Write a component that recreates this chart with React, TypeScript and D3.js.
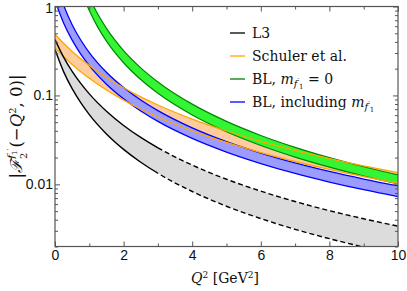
import React, { useRef, useEffect } from 'react';
import * as d3 from 'd3';

// Q^2 grid (GeV^2) and band edges
const q2 = [0, 0.25, 0.5, 0.75, 1, 1.5, 2, 2.5, 3, 4, 5, 6, 7, 8, 9, 10];
const l3Upper = [0.425, 0.2698, 0.1863, 0.1364, 0.1041, 0.0664, 0.04597, 0.0337, 0.02577, 0.01646, 0.01141, 0.00838, 0.00641, 0.00506, 0.0041, 0.00339];
const l3Lower = [0.328, 0.1853, 0.119, 0.0828, 0.0609, 0.0369, 0.02473, 0.01772, 0.01332, 0.00831, 0.00567, 0.00412, 0.00312, 0.00245, 0.00197, 0.00162];
const schulerUpper = [0.488, 0.3854, 0.3122, 0.258, 0.2168, 0.1593, 0.1219, 0.0963, 0.078, 0.0542, 0.0398, 0.0305, 0.02409, 0.01951, 0.01612, 0.01355];
const schulerLower = [0.3445, 0.2735, 0.2225, 0.1846, 0.1556, 0.115, 0.0886, 0.0703, 0.0572, 0.04, 0.02957, 0.02276, 0.01807, 0.0147, 0.0122, 0.01028];

const blueQ2 = [0.05, 0.25, 0.5, 0.75, 1, 1.5, 2, 2.5, 3, 4, 5, 6, 7, 8, 9, 10];
const blUpper = [1.8, 1.04, 0.624, 0.42, 0.3036, 0.1823, 0.1227, 0.0887, 0.0675, 0.04319, 0.03025, 0.02249, 0.01744, 0.01397, 0.01147, 0.0096];
const blLower = [1.03, 0.653, 0.418, 0.292, 0.2166, 0.1338, 0.0915, 0.0668, 0.051, 0.03285, 0.02306, 0.01714, 0.01327, 0.01062, 0.0087, 0.00727];

const greenQ2 = [0.9, 1, 1.25, 1.5, 2, 2.5, 3, 4, 5, 6, 7, 8, 9, 10];
const bl0Upper = [1.577, 1.277, 0.817, 0.5676, 0.3193, 0.2043, 0.1419, 0.0798, 0.0511, 0.03547, 0.02606, 0.01995, 0.01577, 0.01277];
const bl0Lower = [1.105, 0.9, 0.582, 0.408, 0.233, 0.1508, 0.1056, 0.0603, 0.039, 0.02734, 0.02025, 0.01561, 0.01241, 0.0101];

const xMajor = [0, 2, 4, 6, 8, 10];
const xMinor = [1, 3, 5, 7, 9];
const yMajor = [1, 0.1, 0.01];
const yMajorLabels = ['1', '0.1', '0.01'];

const legendItems = [
  { key: 'l3', color: '#000000' },
  { key: 'schuler', color: '#ffa500' },
  { key: 'bl0', color: '#008000' },
  { key: 'bl', color: '#0000ff' },
];

const W = 407;
const H = 291;
const SERIF = "'DejaVu Serif', serif";
const SANS = "'Liberation Sans', Arial, sans-serif";

const App: React.FC = () => {
  const svgRef = useRef<SVGSVGElement>(null);

  useEffect(() => {
    if (!svgRef.current) return;
    const svg = d3.select(svgRef.current);
    svg.selectAll('*').remove();

    const margin = { top: 6.5, right: 9, bottom: 44.5, left: 55 };
    const iw = W - margin.left - margin.right;
    const ih = H - margin.top - margin.bottom;

    const x = d3.scaleLinear().domain([0, 10]).range([0, iw]);
    const y = d3.scaleLog().domain([0.002, 1]).range([ih, 0]);

    const defs = svg.append('defs');
    defs.append('clipPath').attr('id', 'plot-clip')
      .append('rect').attr('width', iw).attr('height', ih);
    defs.append('clipPath').attr('id', 'solid-clip')
      .append('rect').attr('width', x(3)).attr('height', ih);
    defs.append('clipPath').attr('id', 'dash-clip')
      .append('rect').attr('x', x(3)).attr('width', iw - x(3)).attr('height', ih);

    const g = svg.append('g').attr('transform', `translate(${margin.left},${margin.top})`);
    const plot = g.append('g').attr('clip-path', 'url(#plot-clip)');

    const band = (xs: number[], lo: number[], hi: number[]) =>
      d3.area<number>()
        .x((_, i) => x(xs[i]))
        .y0((_, i) => y(lo[i]))
        .y1((_, i) => y(hi[i]))
        .curve(d3.curveMonotoneX)(lo);

    const line = (xs: number[], vs: number[]) =>
      d3.line<number>()
        .x((_, i) => x(xs[i]))
        .y(v => y(v))
        .curve(d3.curveMonotoneX)(vs);

    // fills
    plot.append('path').attr('d', band(q2, l3Lower, l3Upper)).attr('fill', '#dcdcdc');
    plot.append('path').attr('d', band(q2, schulerLower, schulerUpper)).attr('fill', '#ffcc9e');
    plot.append('path').attr('d', band(blueQ2, blLower, blUpper)).attr('fill', '#9c9cff');
    plot.append('path').attr('d', band(greenQ2, bl0Lower, bl0Upper)).attr('fill', '#33f533');

    // edges
    [bl0Upper, bl0Lower].forEach(vs => {
      plot.append('path').attr('d', line(greenQ2, vs)).attr('fill', 'none')
        .attr('stroke', '#008800').attr('stroke-width', 1.2);
    });
    [blUpper, blLower].forEach(vs => {
      plot.append('path').attr('d', line(blueQ2, vs)).attr('fill', 'none')
        .attr('stroke', '#0000ff').attr('stroke-width', 1.3);
    });
    [schulerUpper, schulerLower].forEach(vs => {
      plot.append('path').attr('d', line(q2, vs)).attr('fill', 'none')
        .attr('stroke', '#ffa500').attr('stroke-width', 1.3);
    });
    [l3Upper, l3Lower].forEach(vs => {
      const d = line(q2, vs);
      plot.append('g').attr('clip-path', 'url(#solid-clip)')
        .append('path').attr('d', d).attr('fill', 'none')
        .attr('stroke', '#000').attr('stroke-width', 1.4);
      plot.append('g').attr('clip-path', 'url(#dash-clip)')
        .append('path').attr('d', d).attr('fill', 'none')
        .attr('stroke', '#000').attr('stroke-width', 1.4)
        .attr('stroke-dasharray', '5,3');
    });

    // frame
    g.append('rect').attr('width', iw).attr('height', ih)
      .attr('fill', 'none').attr('stroke', '#555').attr('stroke-width', 1.2);

    const yMinor: number[] = [];
    [0.001, 0.01, 0.1].forEach(dec => {
      for (let k = 2; k <= 9; k++) {
        const v = dec * k;
        if (v > 0.002 - 1e-9 && v < 1) yMinor.push(v);
      }
    });

    const styleAxis = (sel: d3.Selection<SVGGElement, unknown, null, undefined>) => {
      sel.select('.domain').remove();
      sel.selectAll('line').attr('stroke', '#555').attr('stroke-width', 1);
      sel.selectAll('text')
        .style('font-family', SANS)
        .style('font-size', '14px')
        .attr('fill', '#111');
    };

    // bottom / top
    g.append('g').attr('transform', `translate(0,${ih})`)
      .call(d3.axisBottom(x).tickValues(xMajor).tickSize(-5).tickPadding(4).tickFormat(d3.format('d')))
      .call(styleAxis);
    g.append('g').attr('transform', `translate(0,${ih})`)
      .call(d3.axisBottom(x).tickValues(xMinor).tickSize(-3).tickFormat(() => ''))
      .call(styleAxis);
    g.append('g')
      .call(d3.axisTop(x).tickValues(xMajor).tickSize(-5).tickFormat(() => ''))
      .call(styleAxis);
    g.append('g')
      .call(d3.axisTop(x).tickValues(xMinor).tickSize(-3).tickFormat(() => ''))
      .call(styleAxis);

    // left / right
    const yAx = g.append('g')
      .call(d3.axisLeft(y).tickValues(yMajor).tickSize(-5).tickPadding(2)
        .tickFormat((d, i) => yMajorLabels[i]))
      .call(styleAxis);
    yAx.selectAll<SVGTextElement, number>('text')
      .filter(d => d === 1)
      .attr('dy', '0.45em');
    g.append('g')
      .call(d3.axisLeft(y).tickValues(yMinor).tickSize(-3).tickFormat(() => ''))
      .call(styleAxis);
    g.append('g').attr('transform', `translate(${iw},0)`)
      .call(d3.axisRight(y).tickValues(yMajor).tickSize(-5).tickFormat(() => ''))
      .call(styleAxis);
    g.append('g').attr('transform', `translate(${iw},0)`)
      .call(d3.axisRight(y).tickValues(yMinor).tickSize(-3).tickFormat(() => ''))
      .call(styleAxis);

    // legend
    const leg = svg.append('g').attr('transform', 'translate(230,33)');
    legendItems.forEach((item, i) => {
      const row = leg.append('g').attr('transform', `translate(0,${i * 23})`);
      row.append('line').attr('x1', 0).attr('x2', 15).attr('y1', 0).attr('y2', 0)
        .attr('stroke', item.color).attr('stroke-width', 1.3);
      const t = row.append('text').attr('x', 22).attr('y', 5)
        .style('font-family', SERIF).style('font-size', '14px').attr('fill', '#111');
      if (item.key === 'l3') t.text('L3');
      if (item.key === 'schuler') t.text('Schuler et al.');
      if (item.key === 'bl0' || item.key === 'bl') {
        t.append('tspan').text(item.key === 'bl0' ? 'BL, ' : 'BL, including ');
        t.append('tspan').style('font-style', 'italic').text('m');
        t.append('tspan').style('font-style', 'italic').style('font-size', '10px').attr('dy', 3).text('f');
        t.append('tspan').style('font-size', '7px').attr('dy', -4).text('′');
        t.append('tspan').style('font-size', '7px').attr('dy', 6).text('1');
        if (item.key === 'bl0') {
          t.append('tspan').attr('dy', -5).text(' = 0');
        }
      }
    });

    // x label
    const xl = svg.append('text').attr('x', 225).attr('y', 283).attr('text-anchor', 'middle')
      .style('font-family', SERIF).style('font-size', '14px').attr('fill', '#111');
    xl.append('tspan').style('font-style', 'italic').text('Q');
    xl.append('tspan').style('font-size', '9px').attr('dy', -5).text('2');
    xl.append('tspan').attr('dy', 5).text(' [GeV');
    xl.append('tspan').style('font-size', '9px').attr('dy', -5).text('2');
    xl.append('tspan').attr('dy', 5).text(']');

    // y label
    const yl = svg.append('text')
      .attr('transform', `translate(22,${margin.top + ih / 2}) rotate(-90)`)
      .attr('text-anchor', 'middle')
      .style('font-family', SERIF).style('font-size', '16.5px').attr('fill', '#111');
    yl.append('tspan').text('|');
    yl.append('tspan').style('font-style', 'italic').text('ℱ');
    yl.append('tspan').style('font-size', '10px').attr('dy', 5).text('2');
    yl.append('tspan').style('font-size', '10px').style('font-style', 'italic').attr('dx', -6).attr('dy', -13).text('f');
    yl.append('tspan').style('font-size', '7px').attr('dy', 3).text('1');
    yl.append('tspan').style('font-size', '8px').attr('dy', -5).text('′');
    yl.append('tspan').attr('dy', 10).attr('dx', 1).text('(−');
    yl.append('tspan').style('font-style', 'italic').text('Q');
    yl.append('tspan').style('font-size', '10px').attr('dy', -6).text('2');
    yl.append('tspan').attr('dy', 6).text(', 0)|');
  }, []);

  return (
    <svg
      ref={svgRef}
      width={W}
      height={H}
      style={{ position: 'absolute', left: 0, top: 0, background: '#fff' }}
    />
  );
};

export default App;
